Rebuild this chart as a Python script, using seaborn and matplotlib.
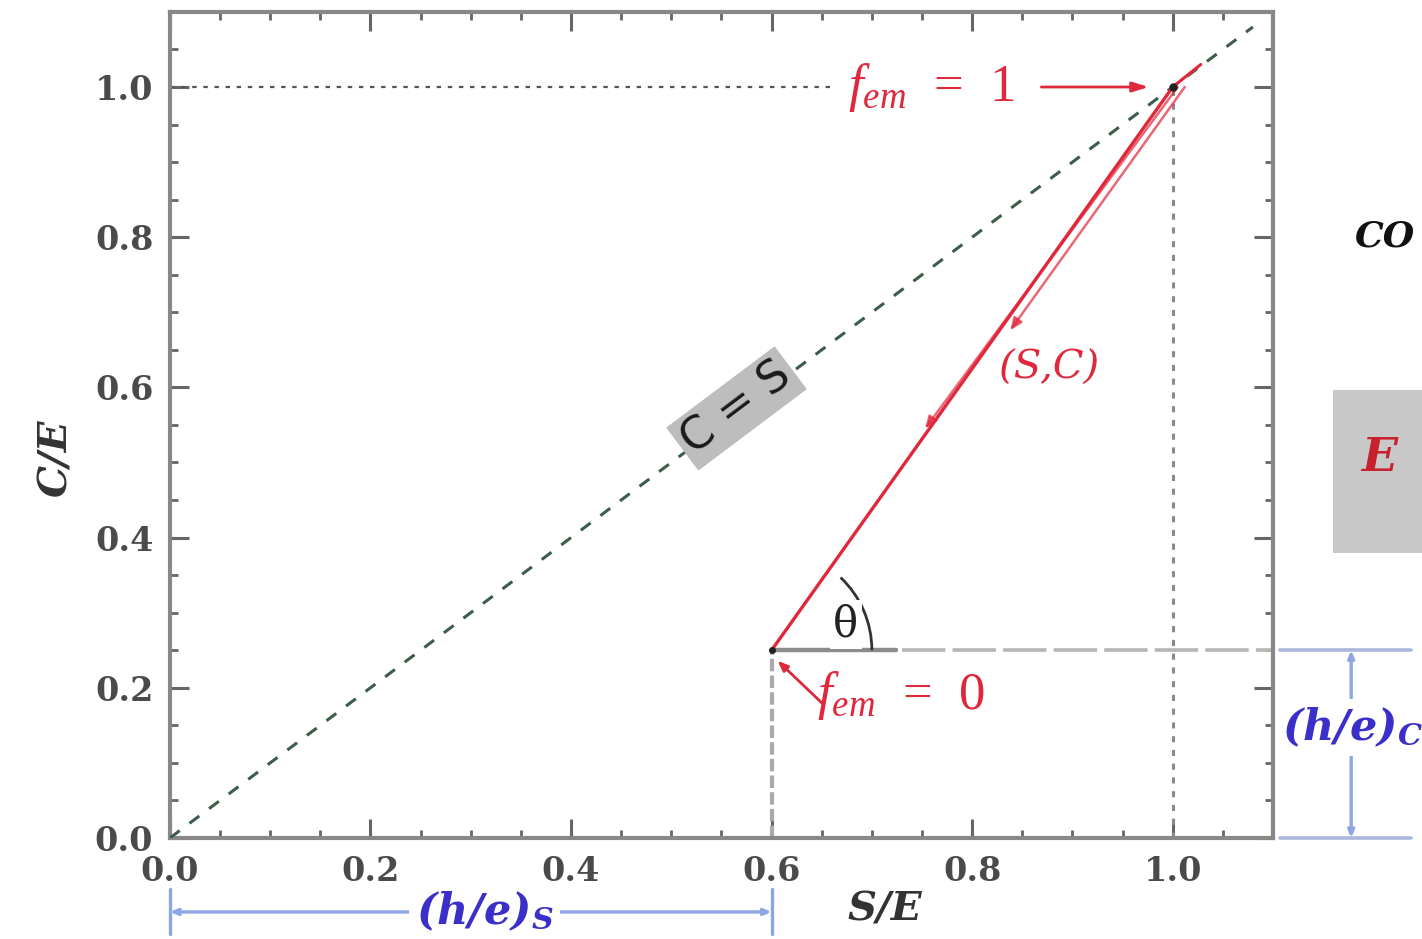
import numpy as np
import pandas as pd
import seaborn as sns
import matplotlib
matplotlib.use("Agg")
import matplotlib.pyplot as plt
from matplotlib.patches import Arc, Rectangle
from matplotlib.ticker import MultipleLocator

# ---- data -------------------------------------------------------------
diag_s = [0.0, 1.08]          # C = S reference line
diag_c = [0.0, 1.08]
path_s = [0.6, 1.0]           # mixing path from f_em = 0 to f_em = 1
path_c = [0.25, 1.0]
arrow1_s = [1.012, 0.838]     # parallel arrows along the path
arrow1_c = [1.0, 0.676]
arrow2_s = [1.005, 0.753]
arrow2_c = [1.0, 0.545]
start_pt = (0.6, 0.25)        # f_em = 0
end_pt = (1.0, 1.0)           # f_em = 1
x_ticks = [0.0, 0.2, 0.4, 0.6, 0.8, 1.0]
y_ticks = [0.0, 0.2, 0.4, 0.6, 0.8, 1.0]
tick_labels = ["0.0", "0.2", "0.4", "0.6", "0.8", "1.0"]

RED = "#e0283c"
BLUE_TXT = "#3a2fc8"
BLUE_LN = "#8ea6e6"

sns.set_theme(style="ticks")
plt.rcParams["font.family"] = ["DejaVu Serif"]
plt.rcParams["mathtext.fontset"] = "custom"
plt.rcParams["mathtext.rm"] = "Liberation Serif"
plt.rcParams["mathtext.it"] = "Liberation Serif:italic"
plt.rcParams["mathtext.bf"] = "DejaVu Serif:bold:italic"

fig = plt.figure(figsize=(14.22, 9.39), dpi=100)
ax = fig.add_axes([0.1195, 0.1076, 0.7757, 0.8797])
ax.set_xlim(0, 1.1)
ax.set_ylim(0, 1.1)

# C = S dashed diagonal
diag = pd.DataFrame({"S": diag_s, "C": diag_c})
sns.lineplot(data=diag, x="S", y="C", ax=ax, color="#3d5c4a", lw=2.2,
             linestyle=(0, (4, 4)), zorder=3)

# reference guides at f_em = 1
ax.plot([0, 0.66], [1.0, 1.0], color="#555555", lw=1.6, linestyle=(0, (2, 3)))
ax.plot([1.0, 1.0], [0, 1.0], color="#8a8a8a", lw=2.2, linestyle=(0, (2, 2.5)))

# guides at f_em = 0
ax.plot([0.6, 0.6], [0, 0.25], color="#aaaaaa", lw=3, linestyle=(0, (3, 1)))
ax.plot([0.6, 0.724], [0.25, 0.25], color="#8c8c8c", lw=3.2, zorder=4)
ax.plot([0.73, 1.1], [0.25, 0.25], color="#b5b5b5", lw=2.6,
        linestyle=(0, (12, 2)))
ax.plot([1.107, 1.2375], [0.25, 0.25], color="#a9b8dc", lw=2.6, clip_on=False)
ax.plot([1.107, 1.2375], [0.0, 0.0], color="#a9b8dc", lw=2.6, clip_on=False)

# mixing path
path = pd.DataFrame({"S": path_s, "C": path_c})
sns.lineplot(data=path, x="S", y="C", ax=ax, color=RED, lw=2.4, zorder=5)
for ss, cc in ((arrow1_s, arrow1_c), (arrow2_s, arrow2_c)):
    ax.annotate("", xy=(ss[1], cc[1]), xytext=(ss[0], cc[0]),
                arrowprops=dict(arrowstyle="-|>,head_length=0.6,head_width=0.25",
                                color=RED, lw=1.8, alpha=0.7,
                                shrinkA=0, shrinkB=0), zorder=5)
ax.plot([path_s[1], 1.028], [path_c[1], 1.03], color=RED, lw=2.2, zorder=5)
ax.plot(*end_pt, marker="o", ms=5, color="#222222", zorder=6)
ax.plot(*start_pt, marker="o", ms=4, color="#222222", zorder=6)

# labels for end members
ax.text(0.676, 1.0, r"$f_{em}$  =  1", color=RED, fontsize=38,
        family=["Liberation Serif"], ha="left", va="center", zorder=6)
ax.annotate("", xy=(0.976, 1.0), xytext=(0.869, 1.0),
            arrowprops=dict(arrowstyle="-|>,head_length=0.8,head_width=0.25",
                            color=RED, lw=2, shrinkA=0, shrinkB=0))
ax.text(0.645, 0.19, r"$f_{em}$  =  0", color=RED, fontsize=38,
        family=["Liberation Serif"], ha="left", va="center", zorder=6)
ax.annotate("", xy=(0.606, 0.236), xytext=(0.65, 0.18),
            arrowprops=dict(arrowstyle="-|>,head_length=0.5,head_width=0.2",
                            color=RED, lw=2, shrinkA=0, shrinkB=0))
ax.text(0.826, 0.626, "(S,C)", color=RED, fontsize=29, style="italic",
        ha="left", va="center")

# C = S label on the diagonal
ax.text(0.565, 0.572, "C = S", fontsize=32, family="DejaVu Sans",
        color="#1a1a1a", rotation=36.9, rotation_mode="anchor",
        ha="center", va="center", zorder=4,
        bbox=dict(boxstyle="square,pad=0.12", fc="#bdbdbd", ec="none"))

# angle theta
ax.add_patch(Arc(start_pt, 0.2, 0.267, theta1=0, theta2=54.6,
                 color="#333333", lw=2, zorder=4))
ax.text(0.674, 0.284, "θ", fontsize=30, color="#222222",
        ha="center", va="center", zorder=5,
        bbox=dict(boxstyle="square,pad=0.08", fc="white", ec="none"))

# (h/e)_S span below the S axis
y_s = -0.0985
ax.annotate("", xy=(0.0, y_s), xytext=(0.6, y_s), annotation_clip=False,
            arrowprops=dict(arrowstyle="<|-|>,head_length=0.35,head_width=0.15",
                            color=BLUE_LN, lw=2.4, shrinkA=0, shrinkB=0))
for xb in (0.0, 0.6):
    ax.plot([xb, xb], [y_s - 0.03, y_s + 0.03], color=BLUE_LN, lw=2.4,
            clip_on=False)
ax.text(0.314, y_s, r"(h/e)$_\mathbf{S}$", color=BLUE_TXT, fontsize=31,
        style="italic", weight="bold", ha="center", va="center",
        bbox=dict(boxstyle="square,pad=0.15", fc="white", ec="none"))

# (h/e)_C span at the right
x_c = 1.178
ax.annotate("", xy=(x_c, 0.25), xytext=(x_c, 0.0), annotation_clip=False,
            arrowprops=dict(arrowstyle="<|-|>,head_length=0.35,head_width=0.15",
                            color=BLUE_LN, lw=2.4, shrinkA=0, shrinkB=0))
ax.text(1.109, 0.147, r"(h/e)$_\mathbf{C}$", color=BLUE_TXT, fontsize=31,
        style="italic", weight="bold", ha="left", va="center",
        bbox=dict(boxstyle="square,pad=0.15", fc="white", ec="none"),
        clip_on=False)

# axes styling
ax.set_xticks(x_ticks)
ax.set_yticks(y_ticks)
ax.set_xticklabels(tick_labels)
ax.set_yticklabels(tick_labels)
ax.xaxis.set_minor_locator(MultipleLocator(0.05))
ax.yaxis.set_minor_locator(MultipleLocator(0.05))
ax.tick_params(which="both", direction="in", top=True, right=True,
               color="#666666")
ax.tick_params(which="major", length=14, width=2.2, labelsize=24,
               labelcolor="#4a4a4a", pad=12)
ax.tick_params(which="minor", length=6, width=2)
for lab in ax.get_xticklabels() + ax.get_yticklabels():
    lab.set_fontweight("bold")
for sp in ax.spines.values():
    sp.set_color("#888888")
    sp.set_linewidth(3)
    sp.set_visible(True)
ax.set_xlabel("S/E", fontsize=29, style="italic", weight="bold",
              color="#333333")
ax.set_ylabel("C/E", fontsize=29, style="italic", weight="bold",
              color="#333333")
ax.xaxis.set_label_coords(0.648, -0.063)
ax.yaxis.set_label_coords(-0.086, 0.46)

# side annotations
fig.text(0.953, 0.748, "CO", fontsize=26, style="italic", weight="bold",
         color="#111111", ha="left", va="center")
fig.patches.append(Rectangle((0.9374, 0.411), 0.07, 0.174,
                             transform=fig.transFigure, fc="#c8c8c8",
                             ec="none"))
fig.text(0.957, 0.512, "E", fontsize=34, style="italic", weight="bold",
         color="#c8202e", ha="left", va="center")

fig.savefig("out.png", dpi=100)
